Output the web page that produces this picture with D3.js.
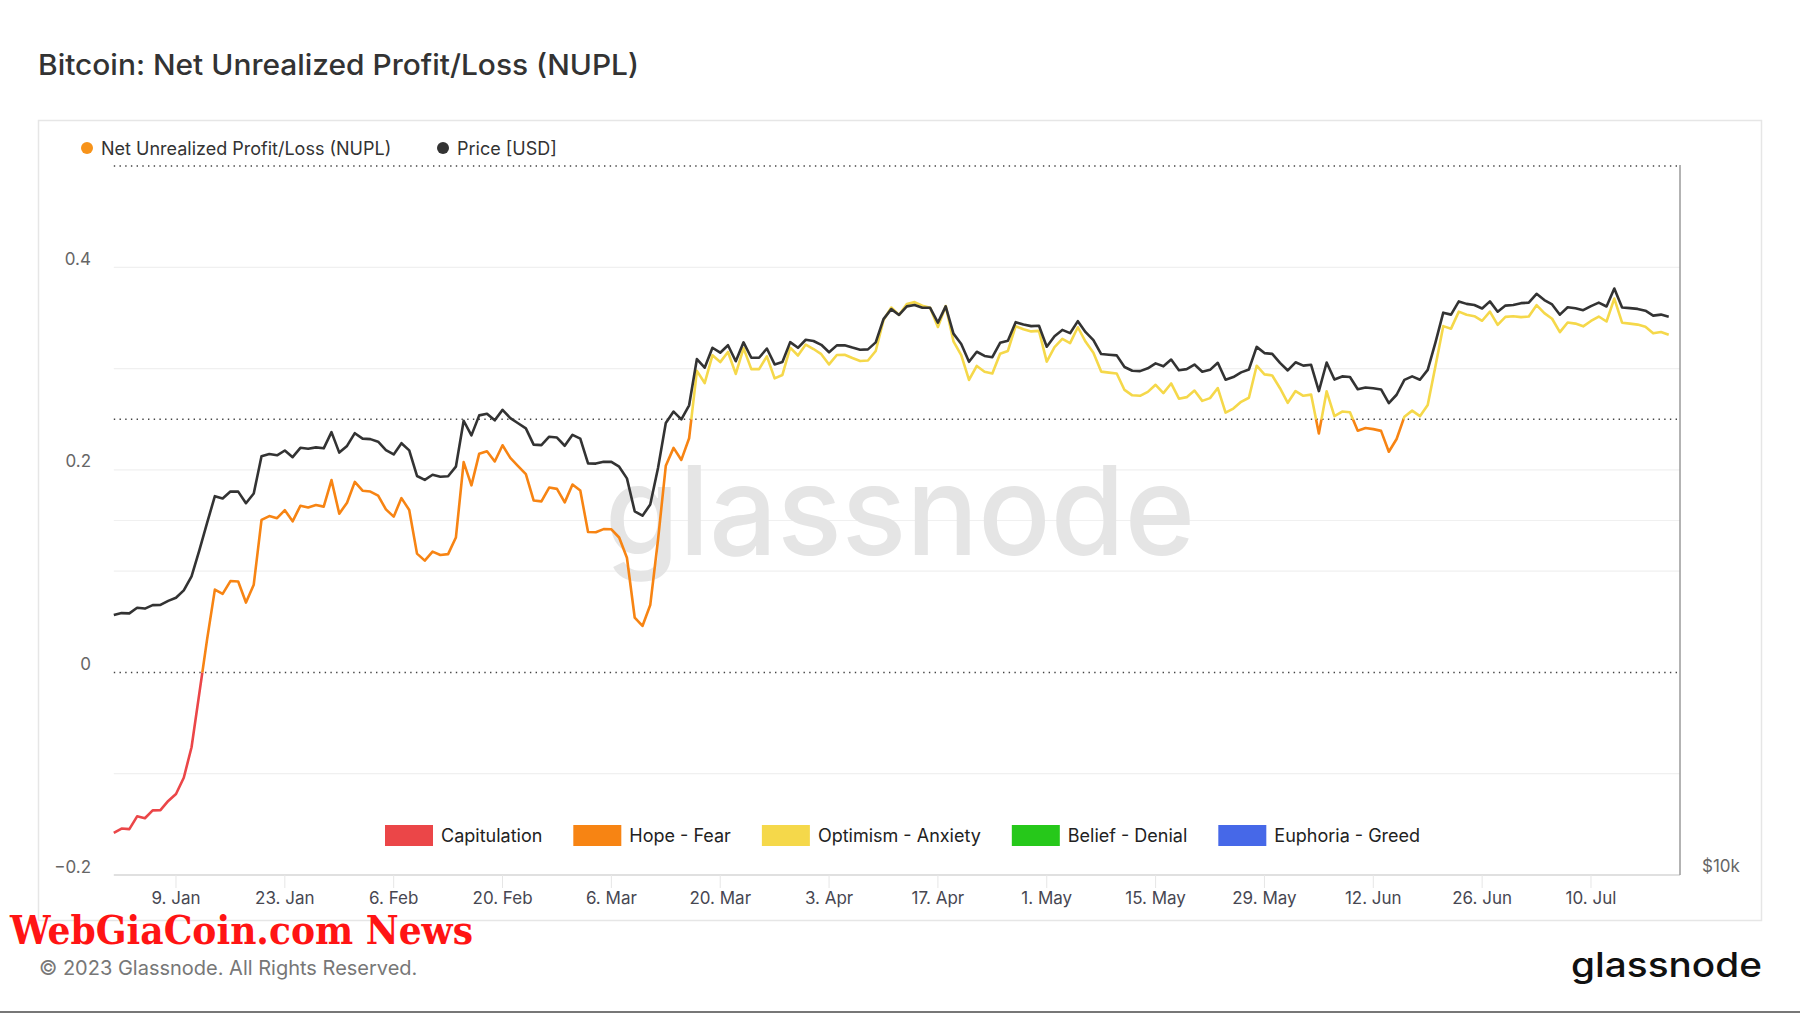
<!DOCTYPE html>
<html><head><meta charset="utf-8">
<script src="https://cdn.jsdelivr.net/npm/d3@7"></script>
<style>body{margin:0;background:#fff} svg{display:block} text{font-family:Inter,"Noto Sans",sans-serif}</style>
</head><body>
<svg id="c" width="1800" height="1013"></svg>
<script>
const startDate = "2023-01-01";
const priceUSD = [
16625,16688,16680,16863,16836,16951,16955,17091,17196,17446,17934,18869,19909,20976,20880,21169,21161,20688,21086,22676,22777,22720,22934,22637,23055,23009,23075,23031,23774,22840,23139,
23723,23471,23449,23332,22955,22760,23264,22939,21819,21651,21870,21788,21808,22220,24307,23623,24565,24641,24327,24829,24436,24188,23947,23198,23175,23561,23522,23147,
23646,23475,22362,22354,22435,22429,22219,21718,20363,20187,20633,22163,24197,24746,24375,25052,27423,26965,28038,27767,28175,27307,28333,27493,27494,27994,27139,27268,28348,28033,28478,
28411,28199,27790,28168,28177,28044,27925,27947,28333,29653,30235,29892,30399,30485,30318,30315,29445,30397,28822,28245,27276,27817,27591,27525,28307,28422,29473,29340,29248,29268,
28091,28680,29031,28847,29534,28904,28454,27694,27658,27621,27000,26804,26784,26930,27192,27036,27398,26832,26890,27129,26753,26851,27225,26334,26476,26719,26868,28085,27745,27702,27219,
26819,27249,27075,27119,25760,27238,26346,26508,26480,25851,25940,25903,25842,25162,25575,26327,26511,26336,26851,28328,30027,29913,30695,30548,30480,30271,30697,30086,30446,30477,
30590,30620,31156,30777,30514,29910,30346,30292,30171,30414,30620,30391,31477,30334,30295,30249,30145,29856,29913,29793
];
const nupl = [
-0.1585,-0.1541,-0.1547,-0.1421,-0.1440,-0.1362,-0.1359,-0.1269,-0.1200,-0.1040,-0.0739,-0.0207,0.0326,0.0818,0.0776,0.0902,0.0898,0.0690,0.0866,0.1506,0.1544,0.1523,0.1602,0.1492,0.1646,0.1629,0.1653,0.1637,0.1899,0.1567,0.1676,
0.1881,0.1794,0.1786,0.1745,0.1610,0.1538,0.1721,0.1604,0.1173,0.1104,0.1193,0.1160,0.1168,0.1332,0.2076,0.1847,0.2160,0.2184,0.2083,0.2243,0.2118,0.2037,0.1957,0.1698,0.1689,0.1825,0.1812,0.1679,
0.1855,0.1796,0.1387,0.1384,0.1415,0.1413,0.1332,0.1132,0.0542,0.0459,0.0665,0.1310,0.2040,0.2217,0.2098,0.2312,0.2977,0.2857,0.3131,0.3064,0.3164,0.2947,0.3202,0.2995,0.2995,0.3120,0.2903,0.2937,0.3206,0.3129,0.3237,
0.3193,0.3142,0.3041,0.3134,0.3136,0.3104,0.3074,0.3080,0.3174,0.3478,0.3603,0.3530,0.3638,0.3656,0.3621,0.3600,0.3411,0.3618,0.3269,0.3132,0.2888,0.3026,0.2969,0.2952,0.3147,0.3174,0.3418,0.3388,0.3367,0.3372,
0.3069,0.3211,0.3293,0.3251,0.3408,0.3264,0.3157,0.2970,0.2960,0.2951,0.2789,0.2736,0.2731,0.2770,0.2840,0.2758,0.2853,0.2703,0.2718,0.2783,0.2681,0.2708,0.2808,0.2565,0.2605,0.2672,0.2712,0.3028,0.2943,0.2932,0.2806,
0.2662,0.2778,0.2731,0.2743,0.2360,0.2775,0.2530,0.2576,0.2568,0.2387,0.2413,0.2402,0.2385,0.2179,0.2305,0.2525,0.2585,0.2530,0.2641,0.3025,0.3419,0.3394,0.3562,0.3531,0.3517,0.3472,0.3563,0.3432,0.3510,0.3516,
0.3508,0.3514,0.3626,0.3547,0.3492,0.3360,0.3455,0.3444,0.3417,0.3470,0.3514,0.3465,0.3691,0.3453,0.3444,0.3434,0.3412,0.3348,0.3361,0.3334
];
const tickDates = ["2023-01-09","2023-01-23","2023-02-06","2023-02-20","2023-03-06","2023-03-20","2023-04-03","2023-04-17","2023-05-01","2023-05-15","2023-05-29","2023-06-12","2023-06-26","2023-07-10"];
const nuplTickValues = [0.4, 0.2, 0, -0.2];
const nuplGridValues = [0.4, 0.3, 0.2, 0.1, -0.1];
const priceGridValues = [20000];
const priceTickValues = [10000];
const zoneBreaks = [0, 0.25, 0.5, 0.75];
const zoneNames = ["Capitulation","Hope - Fear","Optimism - Anxiety","Belief - Denial","Euphoria - Greed"];
const zoneColors = ["#eb4648","#f78413","#f5d84a","#26c81a","#4668e8"];
const seriesNames = ["Net Unrealized Profit/Loss (NUPL)","Price [USD]"];
const seriesColors = ["#f7931a","#333333"];

const svg = d3.select("#c");
svg.append("rect").attr("width",1800).attr("height",1013).attr("fill","#fff");

const parse = d3.utcParse("%Y-%m-%d");
const t0 = parse(startDate);
const dates = priceUSD.map((_, i) => d3.utcDay.offset(t0, i));

const L = 113.8, R = 1680, T = 166, B = 875;
const x = d3.scaleUtc().domain([t0, new Date(+t0 + 201.45*864e5)]).range([L, R]);
const yN = d3.scaleLinear().domain([-0.2, 0.5]).range([B, T]);
const yP = d3.scaleLog().domain([10000, 40000]).range([B, T]);

// title
svg.append("text").attr("x",38).attr("y",75).attr("font-size",28.5).attr("font-weight",500)
  .attr("fill","#333").attr("textLength",601).attr("lengthAdjust","spacingAndGlyphs")
  .text("Bitcoin: Net Unrealized Profit/Loss (NUPL)");

// panel
svg.append("rect").attr("x",38.5).attr("y",120.5).attr("width",1723).attr("height",800)
  .attr("fill","none").attr("stroke","#e6e6e6").attr("stroke-width",1.5);

// grid
const g = svg.append("g");
g.selectAll(".gn").data(nuplGridValues).join("line")
  .attr("x1",L).attr("x2",R).attr("y1",d=>yN(d)).attr("y2",d=>yN(d))
  .attr("stroke","#f0f0f0").attr("stroke-width",1.2);
g.selectAll(".gp").data(priceGridValues).join("line")
  .attr("x1",L).attr("x2",R).attr("y1",d=>yP(d)).attr("y2",d=>yP(d))
  .attr("stroke","#f0f0f0").attr("stroke-width",1.2);

// watermark
svg.append("text").attr("x",605).attr("y",555).attr("font-size",124).attr("font-weight",500)
  .attr("fill","#e5e5e5").attr("textLength",590).attr("lengthAdjust","spacingAndGlyphs").text("glassnode");

// dotted zone lines
g.selectAll(".zd").data([0, 0.25, 0.5]).join("line")
  .attr("x1",L).attr("x2",R).attr("y1",d=>yN(d)).attr("y2",d=>yN(d))
  .attr("stroke","#444").attr("stroke-width",1.4).attr("stroke-dasharray","1.4,4.3");

// bottom axis
svg.append("line").attr("x1",L).attr("x2",R).attr("y1",B).attr("y2",B).attr("stroke","#e0e0e0").attr("stroke-width",2);
const ticks = tickDates.map(parse);
svg.selectAll(".xt").data(ticks).join("line")
  .attr("x1",d=>x(d)).attr("x2",d=>x(d)).attr("y1",B).attr("y2",B+13)
  .attr("stroke","#e6e6e6").attr("stroke-width",1);
const fmt = d3.utcFormat("%-d. %b");
svg.selectAll(".xl").data(ticks).join("text")
  .attr("x",d=>x(d)).attr("y",904).attr("text-anchor","middle").attr("font-size",17)
  .attr("fill","#474752").text(d=>fmt(d));

// right axis line
svg.append("line").attr("x1",R).attr("x2",R).attr("y1",T-1).attr("y2",B).attr("stroke","#9a9a9a").attr("stroke-width",1.5);

// y labels
svg.selectAll(".yl").data(nuplTickValues).join("text")
  .attr("x",91).attr("y",d=>yN(d)-2.5).attr("text-anchor","end").attr("font-size",17)
  .attr("fill","#666").text(d=>d3.format("")(d));
svg.selectAll(".pl").data(priceTickValues).join("text")
  .attr("x",1702).attr("y",d=>yP(d)-3).attr("font-size",17)
  .attr("fill","#666").text(d=>"$"+d3.format("~s")(d));

// NUPL line with zones
const lineN = d3.line().x((d,i)=>x(dates[i])).y(d=>yN(d));
const defs = svg.append("defs");
zoneColors.forEach((c,i)=>{
  const lo = i===0 ? -Infinity : zoneBreaks[i-1];
  const hi = i<zoneBreaks.length ? zoneBreaks[i] : Infinity;
  const top = hi===Infinity ? 0 : yN(hi);
  const bot = lo===-Infinity ? 1013 : yN(lo);
  defs.append("clipPath").attr("id","z"+i).append("rect")
    .attr("x",0).attr("width",1800).attr("y",top).attr("height",Math.max(0,bot-top));
  svg.append("path").datum(nupl).attr("d",lineN).attr("fill","none")
    .attr("stroke",c).attr("stroke-width",2.6).attr("stroke-linejoin","round")
    .attr("clip-path","url(#z"+i+")");
});
// price line
const lineP = d3.line().x((d,i)=>x(dates[i])).y(d=>yP(d));
svg.append("path").datum(priceUSD).attr("d",lineP).attr("fill","none")
  .attr("stroke","#333").attr("stroke-width",2.6).attr("stroke-linejoin","round");

// top legend
const tl = [{x:87},{x:443}];
seriesNames.forEach((n,i)=>{
  svg.append("circle").attr("cx",tl[i].x).attr("cy",148).attr("r",6).attr("fill",seriesColors[i]);
  svg.append("text").attr("x",tl[i].x+14).attr("y",154.5).attr("font-size",18).attr("fill","#333").text(n);
});

// zone legend
const lg = svg.append("g");
let lx = 0;
zoneNames.forEach((n,i)=>{
  lg.append("rect").attr("x",lx).attr("y",825).attr("width",48).attr("height",21).attr("fill",zoneColors[i]);
  const t = lg.append("text").attr("x",lx+56).attr("y",842).attr("font-size",18).attr("fill","#222").text(n);
  lx += 56 + t.node().getComputedTextLength() + 31;
});
lg.attr("transform",`translate(${385},0)`);

// footer
svg.append("text").attr("x",10).attr("y",944)
  .style("font-family","'DejaVu Serif',serif").style("font-weight","bold")
  .attr("font-size",40).attr("fill","#ff1414")
  .attr("textLength",463).attr("lengthAdjust","spacingAndGlyphs").text("WebGiaCoin.com News");
svg.append("text").attr("x",39).attr("y",975).attr("font-size",20).attr("fill","#777")
  .text("© 2023 Glassnode. All Rights Reserved.");
svg.append("text").attr("x",1571).attr("y",977).attr("font-size",34).attr("font-weight",500)
  .attr("fill","#111").attr("textLength",191).attr("lengthAdjust","spacingAndGlyphs").text("glassnode");
svg.append("line").attr("x1",0).attr("x2",1800).attr("y1",1012).attr("y2",1012).attr("stroke","#777").attr("stroke-width",2);
</script>
</body></html>
